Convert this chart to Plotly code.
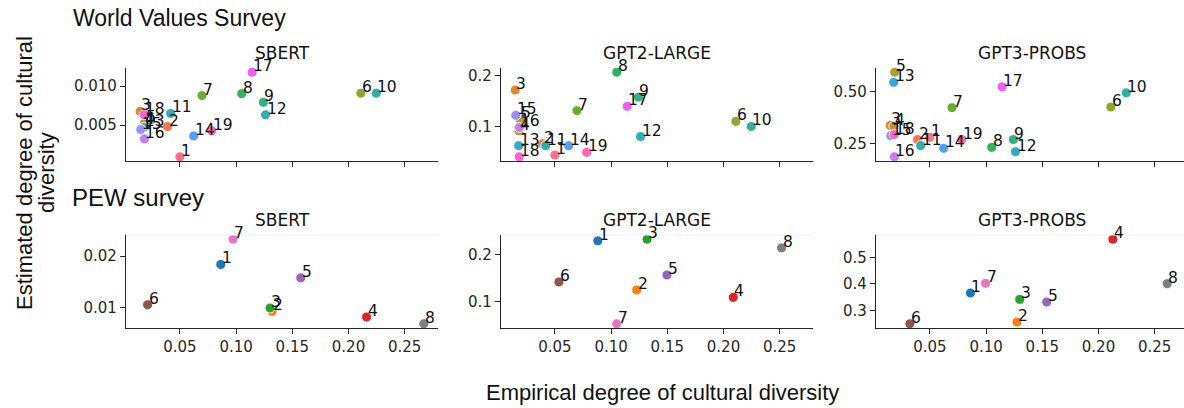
import math
import plotly.graph_objects as go

# ---------------- data ----------------
WVS_LABELS = [str(i) for i in range(1, 20)]
WVS_X = [0.050, 0.039, 0.0147, 0.018, 0.0187, 0.211, 0.0697, 0.105, 0.1243, 0.2247,
         0.0418, 0.1262, 0.0178, 0.0623, 0.0152, 0.0185, 0.1143, 0.0183, 0.0783]
WVS_SBERT = [0.00093, 0.00482, 0.00676, 0.0050, 0.0053, 0.0091, 0.0088, 0.00905, 0.00793, 0.0091,
             0.0065, 0.00633, 0.0047, 0.00361, 0.00443, 0.00323, 0.0118, 0.00633, 0.00426]
WVS_GPT2 = [0.0448, 0.067, 0.1716, 0.092, 0.1152, 0.1105, 0.1316, 0.2065, 0.1578, 0.1006,
            0.0631, 0.0809, 0.0631, 0.0631, 0.1223, 0.0986, 0.140, 0.0414, 0.050]
WVS_GPT3 = [0.282, 0.271, 0.339, 0.335, 0.594, 0.427, 0.424, 0.2335, 0.271, 0.495,
            0.242, 0.213, 0.5455, 0.229, 0.29, 0.1885, 0.524, 0.295, 0.271]

PEW_LABELS = [str(i) for i in range(1, 9)]
PEW_SBERT_X = [0.0864, 0.132, 0.1302, 0.2161, 0.1575, 0.0213, 0.0973, 0.267]
PEW_SBERT_Y = [0.0184, 0.00928, 0.00994, 0.00819, 0.0158, 0.01058, 0.0233, 0.00688]
PEW_GPT2_X = [0.0882, 0.1228, 0.132, 0.2087, 0.1497, 0.0536, 0.105, 0.2516]
PEW_GPT2_Y = [0.2293, 0.1244, 0.2328, 0.1086, 0.1565, 0.1415, 0.0522, 0.2143]
PEW_GPT3_X = [0.0861, 0.1275, 0.1299, 0.2128, 0.1539, 0.0322, 0.0995, 0.2611]
PEW_GPT3_Y = [0.3657, 0.2555, 0.3415, 0.5696, 0.3315, 0.249, 0.4023, 0.401]

MODELS = ["SBERT", "GPT2-LARGE", "GPT3-PROBS"]
X_TICKS = [0.05, 0.10, 0.15, 0.20, 0.25]
Y_TICKS = [[0.005, 0.010], [0.1, 0.2], [0.25, 0.50],
           [0.01, 0.02], [0.1, 0.2], [0.3, 0.4, 0.5]]
Y_FMT = [".3f", ".1f", ".2f", ".2f", ".1f", ".1f"]


# ---------------- husl palette (seaborn default for many hues) ----------------
_M = [[3.2406, -1.5372, -0.4986], [-0.9689, 1.8758, 0.0415], [0.0557, -0.2040, 1.0570]]
_refY, _refU, _refV = 1.0, 0.19784, 0.46834
_lab_e, _lab_k = 0.008856, 903.3


def _max_chroma(L, H):
    hrad = math.radians(H)
    sinH, cosH = math.sin(hrad), math.cos(hrad)
    sub1 = (L + 16) ** 3 / 1560896.0
    sub2 = sub1 if sub1 > _lab_e else L / _lab_k
    result = float("inf")
    for m1, m2, m3 in _M:
        top = (0.99915 * m1 + 1.05122 * m2 + 1.14460 * m3) * sub2
        rbottom = 0.86330 * m3 - 0.17266 * m2
        lbottom = 0.12949 * m3 - 0.38848 * m1
        bottom = (rbottom * sinH + lbottom * cosH) * sub2
        for t in (0.0, 1.0):
            C = L * (top - 1.05122 * t) / (bottom + 0.17266 * sinH * t)
            if 0 < C < result:
                result = C
    return result


def _from_linear(c):
    return 12.92 * c if c <= 0.0031308 else 1.055 * c ** (1 / 2.4) - 0.055


def husl_to_hex(H, S, L):
    C = _max_chroma(L, H) / 100.0 * S
    U = math.cos(math.radians(H)) * C
    V = math.sin(math.radians(H)) * C
    varY = _refY * ((L + 16) / 116.0) ** 3 if L > 8 else _refY * L / _lab_k
    varU = U / (13 * L) + _refU
    varV = V / (13 * L) + _refV
    Y = varY * _refY
    X = 0 - (9 * Y * varU) / ((varU - 4) * varV - varU * varV)
    Z = (9 * Y - 15 * varV * Y - varV * X) / (3 * varV)
    rgb = []
    for row in _M:
        c = _from_linear(row[0] * X + row[1] * Y + row[2] * Z)
        rgb.append(int(round(min(max(c, 0), 1) * 255)))
    return "#%02x%02x%02x" % tuple(rgb)


def husl_palette(n, h=0.01, s=0.9, l=0.65):
    return [husl_to_hex(((i / n + h) % 1) * 359, s * 99, l * 99) for i in range(n)]


WVS_COLORS = husl_palette(len(WVS_LABELS))
PEW_COLORS = ["#1f77b4", "#ff7f0e", "#2ca02c", "#d62728", "#9467bd", "#8c564b", "#e377c2", "#7f7f7f"]

# ---------------- layout geometry (pixels) ----------------
W, H = 1184, 408
COL_X = [(126, 438), (501, 813), (876, 1188)]
ROW_Y = [(68, 161), (235, 328)]
INK = "#262626"
FONT_TICK = "DejaVu Sans"
FONT_BIG = "Liberation Sans, Arial"

panels = [
    (WVS_X, WVS_SBERT, WVS_LABELS, WVS_COLORS),
    (WVS_X, WVS_GPT2, WVS_LABELS, WVS_COLORS),
    (WVS_X, WVS_GPT3, WVS_LABELS, WVS_COLORS),
    (PEW_SBERT_X, PEW_SBERT_Y, PEW_LABELS, PEW_COLORS),
    (PEW_GPT2_X, PEW_GPT2_Y, PEW_LABELS, PEW_COLORS),
    (PEW_GPT3_X, PEW_GPT3_Y, PEW_LABELS, PEW_COLORS),
]

all_x = [v for p in panels for v in p[0]]
xmin, xmax = min(all_x), max(all_x)
xpad = 0.05 * (xmax - xmin)
X0, X1 = xmin - xpad, xmax + xpad
px_per_unit = (COL_X[0][1] - COL_X[0][0]) / (X1 - X0)

fig = go.Figure()
annotations = []
shapes = []
layout = {}

for k, (xs, ys, labels, colors) in enumerate(panels):
    row, col = divmod(k, 3)
    n = k + 1
    xa = "x" if n == 1 else f"x{n}"
    ya = "y" if n == 1 else f"y{n}"
    fig.add_trace(go.Scatter(
        x=xs, y=ys, mode="markers", xaxis=xa, yaxis=ya, showlegend=False,
        marker=dict(size=10, color=colors, line=dict(color="white", width=0.9)),
        hoverinfo="skip",
    ))
    for xv, yv, lab in zip(xs, ys, labels):
        annotations.append(dict(
            x=xv, y=yv, xref=xa, yref=ya, text=lab, showarrow=False,
            xanchor="left", yanchor="bottom", xshift=-1, yshift=-5,
            font=dict(family=FONT_TICK, size=15.5, color="#111111"),
        ))
    lo, hi = min(ys), max(ys)
    pad = 0.05 * (hi - lo)
    c0, c1 = COL_X[col]
    r0, r1 = ROW_Y[row]
    xr = [X0, X1]
    dom_right = min(c1, W)
    if c1 > W:
        xr = [X0, X0 + (W - c0) / px_per_unit]
    layout["xaxis" if n == 1 else f"xaxis{n}"] = dict(
        domain=[c0 / W, dom_right / W], anchor=ya, range=xr,
        tickvals=X_TICKS, tickformat=".2f", showticklabels=(row == 1),
        ticks="outside", ticklen=5, tickwidth=1.2, tickcolor=INK,
        showline=True, linecolor=INK, linewidth=1.25, showgrid=False, zeroline=False,
        tickfont=dict(family=FONT_TICK, size=15, color=INK),
    )
    layout["yaxis" if n == 1 else f"yaxis{n}"] = dict(
        domain=[1 - r1 / H, 1 - r0 / H], anchor=xa, range=[lo - pad, hi + pad],
        tickvals=Y_TICKS[k], tickformat=Y_FMT[k],
        ticks="outside", ticklen=5, tickwidth=1.2, tickcolor=INK,
        showline=True, linecolor=INK, linewidth=1.25, showgrid=False, zeroline=False,
        tickfont=dict(family=FONT_TICK, size=15, color=INK),
    )
    # panel title
    annotations.append(dict(
        x=(c0 + c1) / 2 / W, y=1 - (r0 - 3) / H, xref="paper", yref="paper",
        text=MODELS[col], showarrow=False, xanchor="center", yanchor="bottom",
        font=dict(family=FONT_TICK, size=17, color="#111111"),
    ))
    if row == 1:
        shapes.append(dict(type="line", xref="paper", yref="paper",
                           x0=c0 / W, x1=dom_right / W, y0=1 - r0 / H, y1=1 - r0 / H,
                           line=dict(color="#eeeeee", width=1)))

# section titles
annotations.append(dict(x=71 / W, y=1 - 18 / H, xref="paper", yref="paper",
                        text="World Values Survey", showarrow=False,
                        xanchor="left", yanchor="middle",
                        font=dict(family=FONT_BIG, size=23, color="#111111")))
annotations.append(dict(x=70 / W, y=1 - 197 / H, xref="paper", yref="paper",
                        text="PEW survey", showarrow=False,
                        xanchor="left", yanchor="middle",
                        font=dict(family=FONT_BIG, size=24, color="#111111")))
# axis labels
annotations.append(dict(x=24 / W, y=1 - 173 / H, xref="paper", yref="paper",
                        text="Estimated degree of cultural", showarrow=False, textangle=-90,
                        xanchor="center", yanchor="middle",
                        font=dict(family=FONT_BIG, size=22, color="#111111")))
annotations.append(dict(x=46 / W, y=1 - 173 / H, xref="paper", yref="paper",
                        text="diversity", showarrow=False, textangle=-90,
                        xanchor="center", yanchor="middle",
                        font=dict(family=FONT_BIG, size=22, color="#111111")))
annotations.append(dict(x=662 / W, y=1 - 392 / H, xref="paper", yref="paper",
                        text="Empirical degree of cultural diversity", showarrow=False,
                        xanchor="center", yanchor="middle",
                        font=dict(family=FONT_BIG, size=22, color="#111111")))

fig.update_layout(
    width=W, height=H, margin=dict(l=0, r=0, t=0, b=0),
    paper_bgcolor="white", plot_bgcolor="white",
    annotations=annotations, shapes=shapes, **layout,
)

fig.write_html("out.html")
